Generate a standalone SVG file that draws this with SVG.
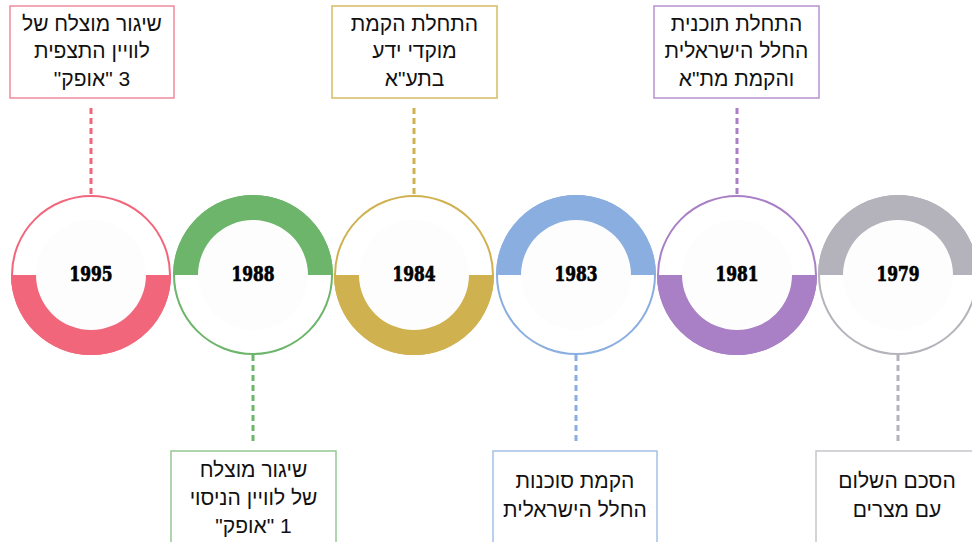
<svg xmlns="http://www.w3.org/2000/svg" width="972" height="542" viewBox="0 0 972 542">
<style>
.bg{fill:#ffffff}
.box{fill:#ffffff;stroke-width:1.5}
.t{font-family:"Liberation Sans","DejaVu Sans",sans-serif;font-size:21px;fill:#111111;text-anchor:middle}
.yr{font-family:"DejaVu Serif","Liberation Serif",serif;font-stretch:condensed;font-weight:bold;font-size:20px;fill:#000000;stroke:#000000;stroke-width:0.7;text-anchor:middle}
.ring{fill:none;stroke-width:2}
.inner{fill:#fdfdfd}
.dash{fill:none;stroke-width:3;stroke-dasharray:6 4}
</style>
<defs>
<path id="bot" d="M-80 0 A80 80 0 0 0 80 0 L55 0 A55 55 0 0 1 -55 0 Z"/>
<path id="top" d="M-80 0 A80 80 0 0 1 80 0 L55 0 A55 55 0 0 0 -55 0 Z"/>
</defs>
<rect class="bg" x="0" y="0" width="972" height="542"/>
<g id="connectors">
<line class="dash" x1="91" y1="108" x2="91" y2="195" stroke="#f2667b"/>
<line class="dash" x1="253" y1="355" x2="253" y2="441" stroke="#6cb56a"/>
<line class="dash" x1="414" y1="108" x2="414" y2="195" stroke="#cfb150"/>
<line class="dash" x1="576" y1="355" x2="576" y2="441" stroke="#8aaee0"/>
<line class="dash" x1="737" y1="108" x2="737" y2="195" stroke="#a97fc5"/>
<line class="dash" x1="898" y1="355" x2="898" y2="441" stroke="#b4b3bb"/>
</g>
<g id="n1995">
<g transform="translate(91 275)">
<circle class="ring" r="79" stroke="#f2667b"/>
<circle class="inner" r="55"/>
<use href="#bot" fill="#f2667b"/>
</g>
<text class="yr" x="91" y="281" textLength="43" lengthAdjust="spacingAndGlyphs">1995</text>
<rect class="box" x="10" y="6" width="164" height="92" stroke="#f08a9a"/>
<text class="t" x="92" y="31">שיגור מוצלח של</text>
<text class="t" x="92" y="58">לוויין התצפית</text>
<text class="t" x="92" y="86">"אופק"&#x200E; 3</text>
</g>
<g id="n1988">
<g transform="translate(253 275)">
<circle class="ring" r="79" stroke="#6cb56a"/>
<circle class="inner" r="55"/>
<use href="#top" fill="#6cb56a"/>
</g>
<text class="yr" x="253" y="281" textLength="43" lengthAdjust="spacingAndGlyphs">1988</text>
<rect class="box" x="171" y="451" width="165" height="100" stroke="#94c992"/>
<text class="t" x="253.5" y="477">שיגור מוצלח</text>
<text class="t" x="253.5" y="505">של לוויין הניסוי</text>
<text class="t" x="253.5" y="533">"אופק"&#x200E; 1</text>
</g>
<g id="n1984">
<g transform="translate(414 275)">
<circle class="ring" r="79" stroke="#cfb150"/>
<circle class="inner" r="55"/>
<use href="#bot" fill="#cfb150"/>
</g>
<text class="yr" x="414" y="281" textLength="43" lengthAdjust="spacingAndGlyphs">1984</text>
<rect class="box" x="332" y="6" width="165" height="92" stroke="#d6bc62"/>
<text class="t" x="414.5" y="31">התחלת הקמת</text>
<text class="t" x="414.5" y="58">מוקדי ידע</text>
<text class="t" x="414.5" y="86">בתע"א</text>
</g>
<g id="n1983">
<g transform="translate(576 275)">
<circle class="ring" r="79" stroke="#8aaee0"/>
<circle class="inner" r="55"/>
<use href="#top" fill="#8aaee0"/>
</g>
<text class="yr" x="576" y="281" textLength="43" lengthAdjust="spacingAndGlyphs">1983</text>
<rect class="box" x="493" y="451" width="164" height="100" stroke="#a3c0e8"/>
<text class="t" x="575" y="488">הקמת סוכנות</text>
<text class="t" x="575" y="517">החלל הישראלית</text>
</g>
<g id="n1981">
<g transform="translate(737 275)">
<circle class="ring" r="79" stroke="#a97fc5"/>
<circle class="inner" r="55"/>
<use href="#bot" fill="#a97fc5"/>
</g>
<text class="yr" x="737" y="281" textLength="43" lengthAdjust="spacingAndGlyphs">1981</text>
<rect class="box" x="654" y="6" width="165" height="92" stroke="#b792d0"/>
<text class="t" x="736.5" y="31">התחלת תוכנית</text>
<text class="t" x="736.5" y="58">החלל הישראלית</text>
<text class="t" x="736.5" y="86">והקמת מת"א</text>
</g>
<g id="n1979">
<g transform="translate(898 275)">
<circle class="ring" r="79" stroke="#b4b3bb"/>
<circle class="inner" r="55"/>
<use href="#top" fill="#b4b3bb"/>
</g>
<text class="yr" x="898" y="281" textLength="43" lengthAdjust="spacingAndGlyphs">1979</text>
<rect class="box" x="816" y="451" width="165" height="100" stroke="#c6c5cc"/>
<text class="t" x="897" y="488">הסכם השלום</text>
<text class="t" x="897" y="517">עם מצרים</text>
</g>
</svg>
